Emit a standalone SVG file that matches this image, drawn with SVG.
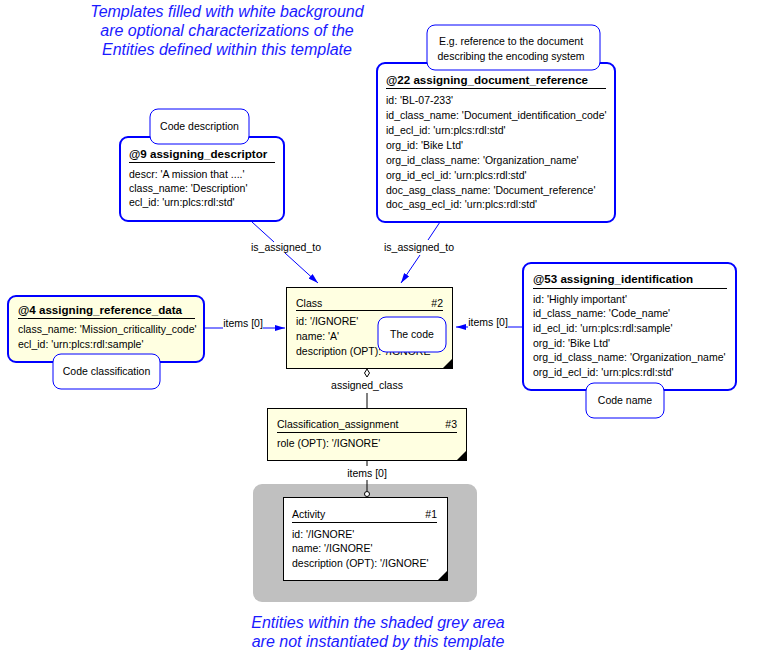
<svg xmlns="http://www.w3.org/2000/svg" width="757" height="651" viewBox="0 0 757 651">
<defs>
<style>
text{font-family:"Liberation Sans",Arial,sans-serif;font-size:10.5px;fill:#000}
.note{font-size:16px;font-style:italic;fill:#1a1aff;text-anchor:middle}
.tpl{fill:#fff;stroke:#0000ff;stroke-width:2}
.tply{fill:#ffffe1;stroke:#0000ff;stroke-width:2}
.call{fill:#fff;stroke:#0000ff;stroke-width:1}
.ent{fill:#ffffe1;stroke:#000;stroke-width:1}
.entw{fill:#fff;stroke:#000;stroke-width:1}
.bold{font-weight:bold;font-size:11.6px}
.ul{stroke:#000;stroke-width:1}
.c{text-anchor:middle}
.r{text-anchor:end}
.bl{stroke:#0000ff;stroke-width:1;fill:none}
.bk{stroke:#000;stroke-width:1;fill:none}
</style>
<marker id="arr" viewBox="0 0 10 6" refX="10" refY="3" markerWidth="10" markerHeight="6" markerUnits="userSpaceOnUse" orient="auto">
<path d="M0,0 L10,3 L0,6 z" fill="#0000ff"/>
</marker>
</defs>
<rect width="757" height="651" fill="#fff"/>

<text class="note" x="227" y="17">Templates filled with white background</text>
<text class="note" x="227" y="36">are optional characterizations of the</text>
<text class="note" x="227" y="55">Entities defined within this template</text>

<text class="note" x="378" y="628">Entities within the shaded grey area</text>
<text class="note" x="378" y="647">are not instantiated by this template</text>

<rect x="253" y="484" width="224" height="118" rx="9" fill="#c0c0c0"/>

<g id="connectors">
<line class="bl" x1="252" y1="222" x2="274" y2="242"/>
<line class="bl" x1="285" y1="253" x2="318" y2="283" marker-end="url(#arr)"/>
<text x="286" y="251" class="c">is_assigned_to</text>
<line class="bl" x1="440" y1="222" x2="428" y2="240"/>
<line class="bl" x1="420" y1="255" x2="401" y2="283" marker-end="url(#arr)"/>
<text x="419" y="251" class="c">is_assigned_to</text>
<line class="bl" x1="204" y1="328" x2="223" y2="328"/>
<line class="bl" x1="263" y1="328" x2="285" y2="328" marker-end="url(#arr)"/>
<text x="243" y="327" class="c">items [0]</text>
<line class="bl" x1="524" y1="327" x2="508" y2="327"/>
<line class="bl" x1="468" y1="327" x2="456" y2="327" marker-end="url(#arr)"/>
<text x="488" y="326" class="c">items [0]</text>
<path d="M367,369 L369.5,373 L367,377 L364.5,373 z" fill="#fff" stroke="#000" stroke-width="1"/>
<text x="367" y="389" class="c">assigned_class</text>
<line class="bk" x1="367" y1="393" x2="367" y2="408"/>
<line class="bk" x1="367" y1="461" x2="367" y2="466"/>
<text x="367" y="477" class="c">items [0]</text>
<line class="bk" x1="367" y1="480" x2="367" y2="491"/>
<circle cx="367" cy="494" r="2.5" fill="#fff" stroke="#000" stroke-width="1"/>
</g>

<g id="node-9">
<rect class="tpl" x="120" y="137" width="164" height="84" rx="8"/>
<text class="bold" x="129" y="158">@9 assigning_descriptor</text>
<line class="ul" x1="129" y1="162.5" x2="275" y2="162.5"/>
<text x="129" y="178">descr: 'A mission that ....'</text>
<text x="129" y="192">class_name: 'Description'</text>
<text x="129" y="206">ecl_id: 'urn:plcs:rdl:std'</text>
</g>
<g id="note-code-description">
<rect class="call" x="150" y="109" width="99" height="35" rx="8"/>
<text class="c" x="199.5" y="130">Code description</text>
</g>

<g id="node-22">
<rect class="tpl" x="377" y="63" width="238" height="159" rx="8"/>
<text class="bold" x="386" y="84">@22 assigning_document_reference</text>
<line class="ul" x1="386" y1="88.5" x2="606" y2="88.5"/>
<text x="386" y="104">id: 'BL-07-233'</text>
<text x="386" y="119">id_class_name: 'Document_identification_code'</text>
<text x="386" y="134">id_ecl_id: 'urn:plcs:rdl:std'</text>
<text x="386" y="149">org_id: 'Bike Ltd'</text>
<text x="386" y="164">org_id_class_name: 'Organization_name'</text>
<text x="386" y="179">org_id_ecl_id: 'urn:plcs:rdl:std'</text>
<text x="386" y="194">doc_asg_class_name: 'Document_reference'</text>
<text x="386" y="208">doc_asg_ecl_id: 'urn:plcs:rdl:std'</text>
</g>
<g id="note-eg">
<rect class="call" x="427" y="25" width="173" height="45" rx="8"/>
<text class="c" x="511" y="45">E.g. reference to the document</text>
<text class="c" x="511" y="60">describing the encoding system</text>
</g>

<g id="node-4">
<rect class="tply" x="8" y="296" width="196" height="66" rx="8"/>
<text class="bold" x="18" y="314">@4 assigning_reference_data</text>
<line class="ul" x1="18" y1="318.5" x2="195" y2="318.5"/>
<text x="18" y="333">class_name: 'Mission_criticallity_code'</text>
<text x="18" y="348">ecl_id: 'urn:plcs:rdl:sample'</text>
</g>
<g id="note-code-classification">
<rect class="call" x="53" y="354" width="107" height="35" rx="8"/>
<text class="c" x="106.5" y="375">Code classification</text>
</g>

<g id="node-53">
<rect class="tpl" x="523" y="263" width="213" height="127" rx="8"/>
<text class="bold" x="533" y="283">@53 assigning_identification</text>
<line class="ul" x1="533" y1="288.5" x2="727" y2="288.5"/>
<text x="533" y="303">id: 'Highly important'</text>
<text x="533" y="317">id_class_name: 'Code_name'</text>
<text x="533" y="332">id_ecl_id: 'urn:plcs:rdl:sample'</text>
<text x="533" y="347">org_id: 'Bike Ltd'</text>
<text x="533" y="361">org_id_class_name: 'Organization_name'</text>
<text x="533" y="376">org_id_ecl_id: 'urn:plcs:rdl:std'</text>
</g>
<g id="note-code-name">
<rect class="call" x="586" y="383" width="78" height="35" rx="8"/>
<text class="c" x="625" y="404">Code name</text>
</g>

<g id="node-2">
<rect class="ent" x="286.5" y="287.5" width="166" height="81"/>
<path d="M452,359 L452,368 L443,368 z" fill="#000"/>
<text x="296" y="307">Class</text>
<text class="r" x="443" y="307">#2</text>
<line class="ul" x1="296" y1="310.5" x2="443" y2="310.5"/>
<text x="296" y="325">id: '/IGNORE'</text>
<text x="296" y="340">name: 'A'</text>
<text x="296" y="355">description (OPT): '/IGNORE'</text>
</g>
<g id="note-the-code">
<rect class="call" x="378" y="317" width="68" height="35" rx="8"/>
<text class="c" x="412" y="338">The code</text>
</g>

<g id="node-3">
<rect class="ent" x="267.5" y="408.5" width="199" height="52"/>
<path d="M466,451 L466,460 L457,460 z" fill="#000"/>
<text x="277" y="428">Classification_assignment</text>
<text class="r" x="457" y="428">#3</text>
<line class="ul" x1="277" y1="432.5" x2="457" y2="432.5"/>
<text x="277" y="447">role (OPT): '/IGNORE'</text>
</g>

<g id="node-1">
<rect class="entw" x="283.5" y="497.5" width="164" height="83"/>
<path d="M447,571 L447,580 L438,580 z" fill="#000"/>
<text x="292" y="518">Activity</text>
<text class="r" x="437" y="518">#1</text>
<line class="ul" x1="292" y1="522.5" x2="437" y2="522.5"/>
<text x="292" y="538">id: '/IGNORE'</text>
<text x="292" y="552">name: '/IGNORE'</text>
<text x="292" y="567">description (OPT): '/IGNORE'</text>
</g>
</svg>
